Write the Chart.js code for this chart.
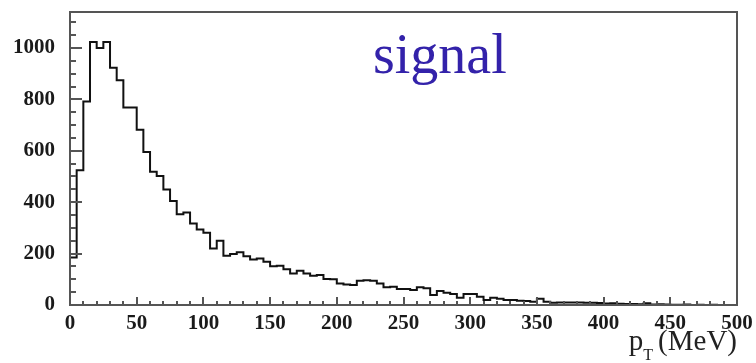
<!DOCTYPE html>
<html>
<head>
<meta charset="utf-8">
<script src="https://cdn.jsdelivr.net/npm/chart.js@4"></script>
<style>
  html, body { margin: 0; padding: 0; background: #ffffff; }
  canvas { display: block; }
</style>
</head>
<body>
<canvas id="c" width="756" height="363"></canvas>
<script>
// ---- data ----
const binWidth = 5;            // MeV per bin
const xMin = 0, xMax = 500;    // pT range (MeV)
const yMax = 1140;
const counts = [
  185, 524, 792, 1023, 1000, 1023, 923, 874, 768, 768,
  682, 595, 518, 502, 449, 405, 353, 360, 317, 294,
  281, 220, 250, 192, 198, 205, 190, 177, 181, 168,
  151, 153, 139, 123, 133, 123, 114, 117, 101, 100,
  84, 80, 78, 94, 96, 94, 84, 69, 71, 62,
  62, 58, 69, 65, 39, 54, 48, 43, 28, 43,
  43, 32, 19, 28, 24, 19, 19, 17, 16, 13,
  24, 13, 9, 10, 10, 10, 10, 9, 9, 8,
  6, 7, 5, 4, 4, 3, 7, 2, 3, 2,
  1, 1, 2, 0, 1, 0, 1, 0, 0, 0
];
const xTickLabels = ['0','50','100','150','200','250','300','350','400','450','500'];
const yTickLabels = ['0','200','400','600','800','1000'];
const annotationText = 'signal';
const axisTitleMain = 'p';
const axisTitleSub = 'T';
const axisTitleUnit = '(MeV)';

// histogram step points at bin edges: bin i spans [i*w, (i+1)*w]
const points = counts.map((c, i) => ({ x: xMin + i * binWidth, y: c }));
points.push({ x: xMax, y: counts[counts.length - 1] });

const tickFont = { family: 'Liberation Serif', size: 21, weight: 'bold' };

const framePlugin = {
  id: 'frame',
  afterDatasetsDraw(chart) {
    const { ctx, chartArea: a, scales: { x, y } } = chart;
    ctx.save();
    ctx.strokeStyle = '#555555';
    ctx.lineWidth = 2;
    ctx.beginPath();
    for (let v = xMin; v <= xMax; v += 10) {
      const px = Math.round(x.getPixelForValue(v));
      const len = (v % 50 === 0) ? 8 : 4;
      ctx.moveTo(px, a.bottom);
      ctx.lineTo(px, a.bottom - len);
    }
    for (let v = 0; v <= yMax; v += 50) {
      const py = Math.round(y.getPixelForValue(v));
      const len = (v % 200 === 0) ? 12 : 6;
      ctx.moveTo(a.left, py);
      ctx.lineTo(a.left + len, py);
    }
    ctx.stroke();
    ctx.strokeRect(a.left, a.top, a.right - a.left, a.bottom - a.top);

    ctx.fillStyle = '#3322aa';
    ctx.font = '56px "Liberation Serif"';
    ctx.textBaseline = 'alphabetic';
    ctx.textAlign = 'left';
    ctx.fillText(annotationText, 373, 73);

    ctx.fillStyle = '#222222';
    ctx.font = '29px "Liberation Serif"';
    const wUnit = ctx.measureText(axisTitleUnit).width;
    const unitX = a.right - wUnit;
    ctx.fillText(axisTitleUnit, unitX, 350);
    ctx.font = '16px "Liberation Serif"';
    const wSub = ctx.measureText(axisTitleSub).width;
    const subX = unitX - 5 - wSub;
    ctx.fillText(axisTitleSub, subX, 360);
    ctx.font = '29px "Liberation Serif"';
    const wP = ctx.measureText(axisTitleMain).width;
    ctx.fillText(axisTitleMain, subX - wP, 350);
    ctx.restore();
  }
};

new Chart(document.getElementById('c'), {
  type: 'line',
  data: {
    datasets: [{
      data: points,
      stepped: 'before',
      borderColor: '#111111',
      borderWidth: 2,
      pointRadius: 0,
      fill: false
    }]
  },
  options: {
    responsive: false,
    animation: false,
    layout: { padding: { top: 12, right: 19, left: 0, bottom: 0 } },
    plugins: { legend: { display: false }, tooltip: { enabled: false } },
    scales: {
      x: {
        type: 'linear',
        min: xMin, max: xMax,
        grid: { display: false, drawTicks: false },
        border: { display: false },
        ticks: {
          stepSize: 50,
          autoSkip: false,
          maxRotation: 0,
          padding: 6,
          color: '#1a1a1a',
          font: tickFont,
          callback: (v) => xTickLabels.includes(String(v)) ? String(v) : ''
        },
        afterFit(s) { s.height = 58; s.paddingLeft = 0; s.paddingRight = 0; }
      },
      y: {
        min: 0, max: yMax,
        grid: { display: false, drawTicks: false },
        border: { display: false },
        ticks: {
          stepSize: 200,
          includeBounds: false,
          padding: 15,
          color: '#1a1a1a',
          font: tickFont,
          callback: (v) => yTickLabels.includes(String(v)) ? String(v) : ''
        },
        afterFit(s) { s.width = 70; s.paddingTop = 0; s.paddingBottom = 0; }
      }
    }
  },
  plugins: [framePlugin]
});
</script>
</body>
</html>
